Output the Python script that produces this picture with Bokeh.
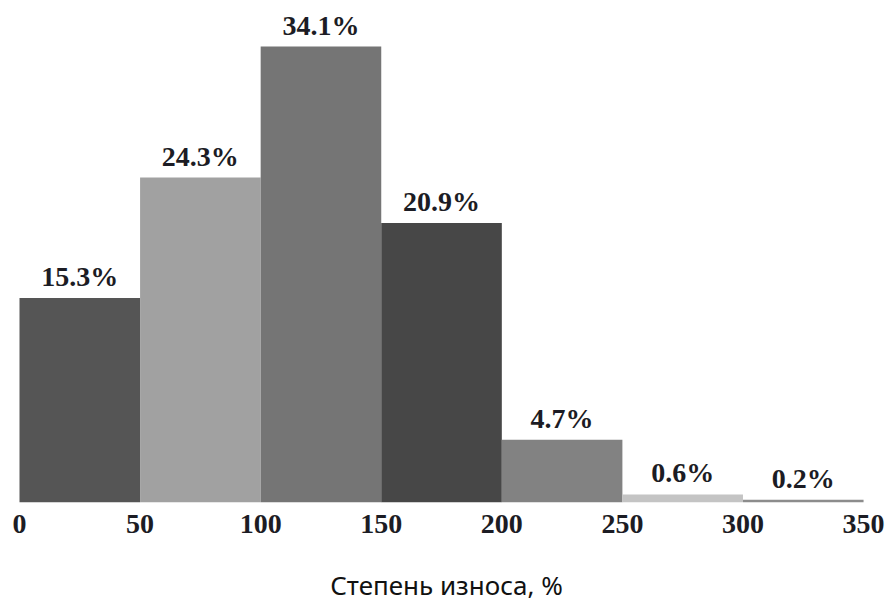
from bokeh.plotting import figure
from bokeh.models import ColumnDataSource, FixedTicker, Range1d
from bokeh.core.properties import value
from bokeh.embed import file_html
from bokeh.resources import INLINE

# Wear-degree bins (%), share of items in each bin (%)
bin_left = [0, 50, 100, 150, 200, 250, 300]
bin_right = [50, 100, 150, 200, 250, 300, 350]
shares = [15.3, 24.3, 34.1, 20.9, 4.7, 0.6, 0.2]
share_labels = ["15.3%", "24.3%", "34.1%", "20.9%", "4.7%", "0.6%", "0.2%"]
bar_colors = ["#555555", "#a1a1a1", "#757575", "#474747", "#828282", "#c4c4c4", "#8c8c8c"]
x_ticks = [0, 50, 100, 150, 200, 250, 300, 350]
x_title = "Степень износа, %"

src = ColumnDataSource(dict(
    left=bin_left,
    right=bin_right,
    mid=[(a + b) / 2 for a, b in zip(bin_left, bin_right)],
    top=shares,
    label=share_labels,
    color=bar_colors,
))

p = figure(
    width=892, height=606,
    x_range=Range1d(-7.88, 362.0),
    y_range=Range1d(0, 37.54),
    output_backend="svg",
    toolbar_location=None,
    y_axis_location=None,
    min_border_left=0, min_border_right=0, min_border_top=0,
    min_border_bottom=104,
)
p.outline_line_color = None
p.xgrid.visible = False
p.ygrid.visible = False
p.background_fill_color = "white"
p.border_fill_color = "white"

p.quad(left="left", right="right", bottom=0, top="top",
       fill_color="color", line_color=None, source=src)

p.text(x="mid", y="top", text="label", source=src,
       text_align="center", text_baseline="bottom", y_offset=-6,
       text_font=value("Liberation Serif"), text_font_style="bold",
       text_font_size="28px", text_color="#1c1c24")

ax = p.xaxis[0]
ax.ticker = FixedTicker(ticks=x_ticks)
ax.axis_line_color = None
ax.major_tick_line_color = None
ax.minor_tick_line_color = None
ax.major_label_text_font = "Liberation Serif"
ax.major_label_text_font_style = "bold"
ax.major_label_text_font_size = "28px"
ax.major_label_text_color = "#1c1c24"
ax.major_label_standoff = 6
ax.axis_label = x_title
ax.axis_label_text_font = "Noto Sans"
ax.axis_label_text_font_style = "normal"
ax.axis_label_text_font_size = "26px"
ax.axis_label_text_color = "#111111"
ax.axis_label_standoff = 31

open("out.html", "w").write(file_html(p, INLINE))
